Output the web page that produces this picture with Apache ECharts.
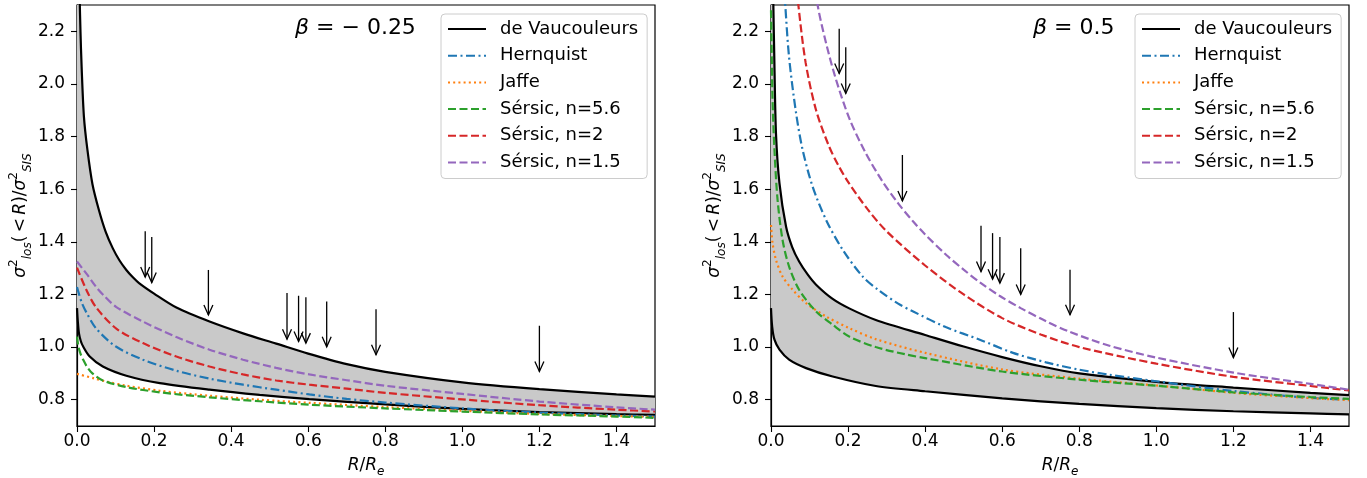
<!DOCTYPE html>
<html>
<head>
<meta charset="utf-8">
<script src="https://cdn.jsdelivr.net/npm/echarts@6.0.0/dist/echarts.min.js"></script>
<style>
  html, body { margin: 0; padding: 0; background: #fff; }
  #chart { width: 1367px; height: 478px; }
</style>
</head>
<body>
<div id="chart"></div>
<script>
// points as [R/Re, sigma_los^2(<R)/sigma_SIS^2]

// left panel, beta = -0.25
const devUpperLeft = [[0.0065,2.35],[0.009,2.2],[0.012,2.065],[0.018,1.875],[0.027,1.75],[0.04,1.62],[0.057,1.52],[0.074,1.44],[0.093,1.375],[0.11,1.33],[0.128,1.293],[0.145,1.265],[0.161,1.243],[0.2,1.203],[0.258,1.15],[0.344,1.097],[0.431,1.052],[0.517,1.013],[0.6,0.975],[0.7,0.935],[0.8,0.906],[1.0,0.866],[1.2,0.84],[1.4,0.82],[1.5,0.812]];
const devLowerLeft = [[0,1.148],[0.002,1.1],[0.005,1.053],[0.01,1.022],[0.016,1.002],[0.033,0.964],[0.067,0.926],[0.128,0.891],[0.215,0.863],[0.344,0.838],[0.474,0.818],[0.603,0.802],[0.8,0.782],[1.0,0.765],[1.2,0.753],[1.4,0.745],[1.5,0.742]];
const hernquistLeft = [[0,1.228],[0.012,1.17],[0.025,1.13],[0.05,1.07],[0.1,1.003],[0.171,0.952],[0.258,0.91],[0.344,0.88],[0.431,0.857],[0.517,0.838],[0.603,0.82],[0.7,0.803],[0.8,0.789],[1.0,0.767],[1.2,0.751],[1.4,0.74],[1.5,0.736]];
const jaffeLeft = [[0,0.898],[0.042,0.882],[0.085,0.866],[0.128,0.853],[0.215,0.834],[0.344,0.815],[0.474,0.8],[0.603,0.788],[0.8,0.772],[1.0,0.758],[1.2,0.746],[1.4,0.738],[1.5,0.734]];
const sersic56Left = [[0,1.04],[0.004,1.0],[0.009,0.975],[0.015,0.955],[0.026,0.925],[0.04,0.9],[0.067,0.873],[0.128,0.848],[0.215,0.828],[0.344,0.809],[0.474,0.794],[0.603,0.781],[0.8,0.767],[1.0,0.755],[1.2,0.744],[1.4,0.736],[1.5,0.731]];
const sersic2Left = [[0,1.302],[0.025,1.215],[0.05,1.15],[0.102,1.07],[0.171,1.015],[0.258,0.964],[0.344,0.926],[0.431,0.896],[0.517,0.873],[0.603,0.857],[0.7,0.842],[0.8,0.826],[1.0,0.801],[1.2,0.779],[1.4,0.762],[1.5,0.755]];
const sersic15Left = [[0,1.325],[0.025,1.278],[0.05,1.228],[0.069,1.197],[0.102,1.152],[0.171,1.097],[0.258,1.038],[0.344,0.99],[0.431,0.952],[0.517,0.921],[0.603,0.896],[0.7,0.874],[0.8,0.853],[1.0,0.822],[1.2,0.793],[1.4,0.771],[1.5,0.762]];

// right panel, beta = 0.5
const devUpperRight = [[0.0055,2.35],[0.009,2.065],[0.013,1.81],[0.022,1.622],[0.039,1.458],[0.055,1.38],[0.073,1.325],[0.095,1.276],[0.117,1.237],[0.16,1.183],[0.203,1.147],[0.272,1.103],[0.4,1.046],[0.5,1.002],[0.6,0.962],[0.7,0.927],[0.8,0.9],[1.0,0.868],[1.2,0.846],[1.4,0.826],[1.5,0.817]];
const devLowerRight = [[0,1.148],[0.003,1.078],[0.009,1.028],[0.022,0.99],[0.047,0.952],[0.091,0.92],[0.16,0.888],[0.272,0.852],[0.4,0.832],[0.6,0.805],[0.8,0.784],[1.0,0.768],[1.2,0.756],[1.4,0.748],[1.5,0.744]];
const hernquistRight = [[0.032,2.42],[0.037,2.3],[0.047,2.1],[0.065,1.89],[0.082,1.75],[0.108,1.61],[0.143,1.483],[0.186,1.37],[0.238,1.268],[0.282,1.213],[0.33,1.165],[0.369,1.135],[0.455,1.075],[0.542,1.028],[0.628,0.978],[0.714,0.942],[0.8,0.914],[0.878,0.895],[1.0,0.87],[1.2,0.833],[1.4,0.807],[1.5,0.8]];
const jaffeRight = [[0,1.464],[0.004,1.395],[0.013,1.331],[0.03,1.268],[0.056,1.218],[0.091,1.167],[0.143,1.116],[0.203,1.072],[0.272,1.03],[0.4,0.978],[0.6,0.915],[0.8,0.88],[1.0,0.854],[1.2,0.826],[1.4,0.806],[1.5,0.798]];
const sersic56Right = [[0,2.28],[0.002,2.1],[0.004,1.94],[0.009,1.75],[0.017,1.56],[0.03,1.407],[0.047,1.306],[0.073,1.218],[0.117,1.135],[0.16,1.085],[0.203,1.04],[0.272,1.0],[0.35,0.972],[0.4,0.958],[0.6,0.907],[0.8,0.876],[1.0,0.853],[1.2,0.828],[1.4,0.81],[1.5,0.803]];
const sersic2Right = [[0.066,2.4],[0.071,2.3],[0.09,2.08],[0.117,1.9],[0.15,1.765],[0.175,1.69],[0.2,1.628],[0.25,1.525],[0.3,1.44],[0.4,1.31],[0.5,1.2],[0.6,1.11],[0.7,1.048],[0.8,1.0],[1.0,0.937],[1.2,0.887],[1.4,0.852],[1.5,0.835]];
const sersic15Right = [[0.115,2.4],[0.121,2.3],[0.143,2.155],[0.168,2.02],[0.203,1.87],[0.243,1.745],[0.286,1.637],[0.329,1.548],[0.369,1.477],[0.4,1.428],[0.455,1.35],[0.5,1.294],[0.543,1.245],[0.593,1.195],[0.648,1.148],[0.714,1.098],[0.775,1.058],[0.878,1.005],[1.0,0.96],[1.2,0.903],[1.4,0.86],[1.5,0.838]];

// arrows: x position, tail and tip heights
const arrowX = [0.177, 0.194, 0.341, 0.545, 0.575, 0.594, 0.648, 0.776, 1.2];
const arrowTopLeft = [1.44, 1.418, 1.293, 1.205, 1.195, 1.189, 1.173, 1.144, 1.081];
const arrowTipLeft = [1.266, 1.245, 1.122, 1.03, 1.021, 1.015, 1.001, 0.971, 0.907];
const arrowTopRight = [2.21, 2.139, 1.73, 1.461, 1.433, 1.418, 1.376, 1.294, 1.133];
const arrowTipRight = [2.04, 1.964, 1.555, 1.287, 1.258, 1.243, 1.2, 1.123, 0.96];

const xTicks = [0, 0.2, 0.4, 0.6, 0.8, 1.0, 1.2, 1.4];
const yTicks = [0.8, 1.0, 1.2, 1.4, 1.6, 1.8, 2.0, 2.2];
const names = ['de Vaucouleurs', 'Hernquist', 'Jaffe', 'Sérsic, n=5.6', 'Sérsic, n=2', 'Sérsic, n=1.5'];
const betaLabels = ['− 0.25', '0.5'];

const FONT = 'DejaVu Sans';
const styles = [
  { color: '#000000', type: 'solid' },
  { color: '#1f77b4', type: [9, 3.5, 2, 3.5] },
  { color: '#ff7f0e', type: [2, 3.2] },
  { color: '#2ca02c', type: [8, 3.5] },
  { color: '#d62728', type: [8, 3.5] },
  { color: '#9467bd', type: [8, 3.5] },
];

const panels = [
  { left: 77, upper: devUpperLeft, lower: devLowerLeft,
    curves: [devUpperLeft, hernquistLeft, jaffeLeft, sersic56Left, sersic2Left, sersic15Left],
    tops: arrowTopLeft, tips: arrowTipLeft },
  { left: 771, upper: devUpperRight, lower: devLowerRight,
    curves: [devUpperRight, hernquistRight, jaffeRight, sersic56Right, sersic2Right, sersic15Right],
    tops: arrowTopRight, tips: arrowTipRight },
];

const chart = echarts.init(document.getElementById('chart'));

const grid = [], xAxis = [], yAxis = [], series = [], legend = [], graphic = [];

panels.forEach((p, gi) => {
  grid.push({ left: p.left, top: 5, width: 578, height: 421, show: true, outerBoundsMode: 'none',
    borderColor: '#000', borderWidth: 1.2, backgroundColor: '#fff' });

  xAxis.push({
    type: 'value', gridIndex: gi, min: 0, max: 1.5,
    axisLine: { show: true, onZero: false, lineStyle: { color: '#000', width: 1.2 } },
    axisTick: { show: true, length: 6, customValues: xTicks, lineStyle: { color: '#000', width: 1.1 } },
    axisLabel: { customValues: xTicks, formatter: v => v.toFixed(1), margin: 7,
      color: '#000', fontFamily: FONT, fontSize: 17 },
    splitLine: { show: false },
    name: '{i|R}{u|/}{i|R}{s|e}', nameLocation: 'middle', nameGap: 28,
    nameTextStyle: { rich: {
      i: { fontFamily: FONT, fontStyle: 'italic', fontSize: 17, color: '#000', lineHeight: 24 },
      u: { fontFamily: FONT, fontSize: 17, color: '#000', lineHeight: 24 },
      s: { fontFamily: FONT, fontStyle: 'italic', fontSize: 12, color: '#000', lineHeight: 12, verticalAlign: 'bottom' },
    } },
  });

  yAxis.push({
    type: 'value', gridIndex: gi, min: 0.7, max: 2.3,
    axisLine: { show: true, onZero: false, lineStyle: { color: '#000', width: 1.2 } },
    axisTick: { show: true, length: 6, customValues: yTicks, lineStyle: { color: '#000', width: 1.1 } },
    axisLabel: { customValues: yTicks, formatter: v => v.toFixed(1), margin: 12,
      color: '#000', fontFamily: FONT, fontSize: 17 },
    splitLine: { show: false },
    name: '{i|σ}{p|2}{s|los}{u|(\u2009<\u2009}{i|R}{u|)/}{i|σ}{p|2}{s|SIS}',
    nameLocation: 'middle', nameGap: 39, nameRotate: 90,
    nameTextStyle: { rich: {
      i: { fontFamily: FONT, fontStyle: 'italic', fontSize: 17, color: '#000', lineHeight: 26 },
      u: { fontFamily: FONT, fontSize: 17, color: '#000', lineHeight: 26 },
      p: { fontFamily: FONT, fontSize: 12, color: '#000', lineHeight: 12, verticalAlign: 'top' },
      s: { fontFamily: FONT, fontStyle: 'italic', fontSize: 12, color: '#000', lineHeight: 12, verticalAlign: 'bottom' },
    } },
  });

  // grey band between the two de Vaucouleurs curves
  series.push({
    type: 'custom', name: 'band', xAxisIndex: gi, yAxisIndex: gi, data: [0], z: 1, silent: true,
    renderItem: (params, api) => {
      const cs = params.coordSys;
      const pts = [[cs.x, cs.y]];
      p.upper.forEach(d => pts.push(api.coord(d)));
      p.lower.slice().reverse().forEach(d => pts.push(api.coord(d)));
      return { type: 'polygon', shape: { points: echarts.graphic.clipPointsByRect(pts, cs) },
        style: { fill: '#c9c9c9' } };
    },
  });

  // lower de Vaucouleurs edge (not in legend)
  series.push({
    type: 'line', name: 'de Vaucouleurs', xAxisIndex: gi, yAxisIndex: gi, data: p.lower,
    symbol: 'none', smooth: 0.3, clip: true, z: 2,
    lineStyle: { color: '#000', width: 2.2 }, itemStyle: { color: '#000' },
  });

  p.curves.forEach((d, k) => {
    series.push({
      type: 'line', name: names[k], xAxisIndex: gi, yAxisIndex: gi, data: d,
      symbol: 'none', smooth: 0.3, clip: true, z: 2,
      lineStyle: { color: styles[k].color, type: styles[k].type, width: 2.2 },
      itemStyle: { color: styles[k].color },
    });
  });

  series.push({
    type: 'custom', name: 'arrows', xAxisIndex: gi, yAxisIndex: gi, z: 4, silent: true,
    data: arrowX.map((x, i) => [x, p.tops[i], p.tips[i]]),
    renderItem: (params, api) => {
      const a = api.coord([api.value(0), api.value(1)]);
      const b = api.coord([api.value(0), api.value(2)]);
      return { type: 'group', children: [
        { type: 'line', shape: { x1: a[0], y1: a[1], x2: b[0], y2: b[1] },
          style: { stroke: '#000', lineWidth: 1.3 } },
        { type: 'polyline', shape: { points: [[b[0] - 4.5, b[1] - 10], [b[0], b[1]], [b[0] + 4.5, b[1] - 10]] },
          style: { stroke: '#000', lineWidth: 1.3, fill: null } },
      ] };
    },
  });

  legend.push({
    data: names, orient: 'vertical', left: gi === 0 ? 441 : 1135, top: 14,
    itemWidth: 38, itemHeight: 14, itemGap: 6.7, padding: [5, 9, 6, 6],
    backgroundColor: 'rgba(255,255,255,0.8)', borderColor: '#cccccc', borderWidth: 1, borderRadius: 4,
    selectedMode: false,
    itemStyle: { opacity: 0, color: 'rgba(0,0,0,0)', borderWidth: 0 },
    textStyle: { fontFamily: FONT, fontSize: 18, color: '#000', lineHeight: 20, padding: [0, 0, 0, 9] },
  });

  graphic.push({
    type: 'text', x: gi === 0 ? 295 : 1033, y: 28, z: 10,
    style: {
      text: '{b|β}{u| = ' + betaLabels[gi] + '}',
      verticalAlign: 'middle', align: 'left',
      rich: {
        b: { fontFamily: FONT, fontStyle: 'italic', fontSize: 22, fill: '#000' },
        u: { fontFamily: FONT, fontSize: 22, fill: '#000' },
      },
    },
  });
});

chart.setOption({
  animation: false,
  backgroundColor: '#fff',
  grid, xAxis, yAxis, series, legend, graphic,
});
</script>
</body>
</html>
